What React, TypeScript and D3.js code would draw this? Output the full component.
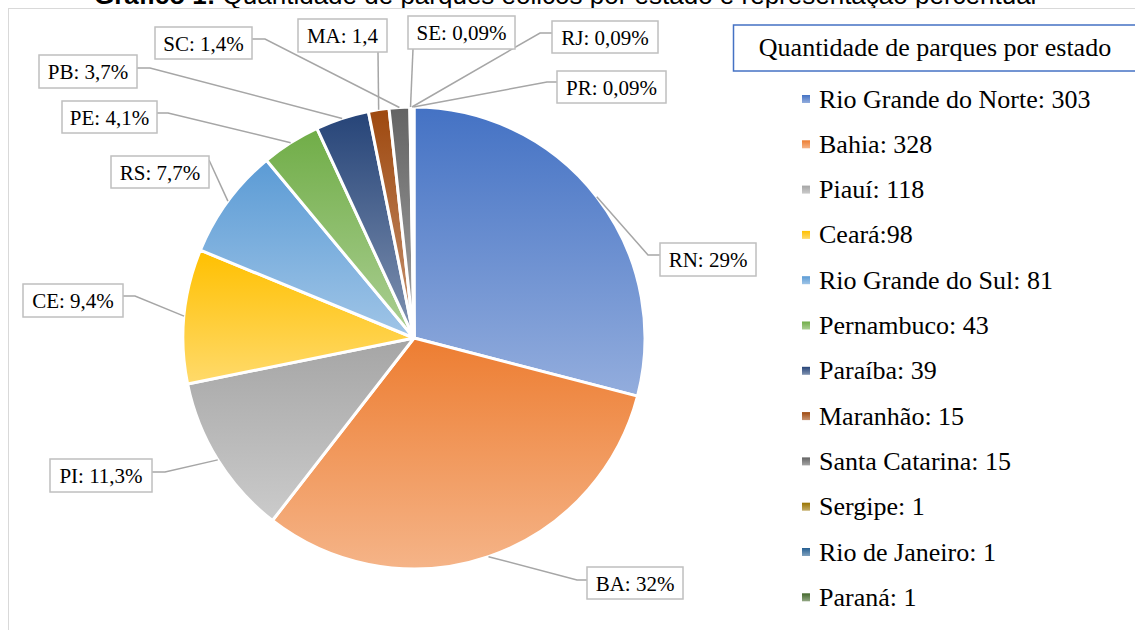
import * as d3 from "d3";

const W = 1135;
const H = 630;

// data
const states = [
  "Rio Grande do Norte",
  "Bahia",
  "Piauí",
  "Ceará",
  "Rio Grande do Sul",
  "Pernambuco",
  "Paraíba",
  "Maranhão",
  "Santa Catarina",
  "Sergipe",
  "Rio de Janeiro",
  "Paraná",
];
const abbrevs = ["RN", "BA", "PI", "CE", "RS", "PE", "PB", "MA", "SC", "SE", "RJ", "PR"];
const counts = [303, 328, 118, 98, 81, 43, 39, 15, 15, 1, 1, 1];
const pctLabels = ["29%", "32%", "11,3%", "9,4%", "7,7%", "4,1%", "3,7%", "1,4", "1,4%", "0,09%", "0,09%", "0,09%"];

const title = "Gráfico 1:";
const subtitle = " Quantidade de parques eólicos por estado e representação percentual";
const legendTitle = "Quantidade de parques por estado";

// office palette, base + tint for the gradient fill
const colors = ["#4472C4", "#ED7D31", "#A5A5A5", "#FFC000", "#5B9BD5", "#70AD47", "#264478", "#9E480E", "#636363", "#997300", "#255E91", "#43682B"];

// manual label placement (box x, y, w, h; elbow; attach point on box)
type LabelLayout = { box: [number, number, number, number]; elbow: [number, number] | null; attach: [number, number] };
const labelLayout: LabelLayout[] = [
  { box: [660, 243, 96, 33], elbow: [648, 255], attach: [660, 255] },
  { box: [587, 567, 96, 32], elbow: [577, 580], attach: [587, 580] },
  { box: [50, 459, 102, 33], elbow: [165, 472], attach: [152, 472] },
  { box: [23, 284, 100, 33], elbow: [135, 296], attach: [123, 296] },
  { box: [111, 156, 98, 32], elbow: null, attach: [209, 160] },
  { box: [62, 101, 95, 32], elbow: [168, 113], attach: [157, 113] },
  { box: [39, 55, 98, 33], elbow: [150, 68], attach: [137, 68] },
  { box: [298, 19, 89, 33], elbow: null, attach: [378, 52] },
  { box: [155, 27, 97, 32], elbow: [265, 39], attach: [252, 39] },
  { box: [408, 16, 107, 33], elbow: null, attach: [413, 49] },
  { box: [552, 21, 106, 32], elbow: [540, 33], attach: [552, 33] },
  { box: [557, 71, 109, 32], elbow: [547, 82], attach: [557, 82] },
];

const serif = "'Times New Roman', 'Liberation Serif', serif";
const sans = "Arial, 'Liberation Sans', sans-serif";

export default function App() {
  const cx = 414;
  const cy = 338;
  const R = 231;

  const pie = d3.pie<number>().sort(null).value((d) => d);
  const arcs = pie(counts);
  const arc = d3.arc<d3.PieArcDatum<number>>().innerRadius(0).outerRadius(R);
  const edge = d3.arc<d3.PieArcDatum<number>>().innerRadius(R).outerRadius(R);

  const tint = (c: string) => d3.interpolateRgb(c, "#ffffff")(0.42);

  const legendY = d3
    .scalePoint<string>()
    .domain(states)
    .range([99, 99 + 11 * 45.3]);

  const leader = d3.line();

  return (
    <svg width={W} height={H} style={{ position: "absolute", left: 0, top: 0 }}>
      <defs>
        {colors.map((c, i) => (
          <linearGradient key={i} id={`g${i}`} x1="0" y1="0" x2="0" y2="1">
            <stop offset="0" stopColor={c} />
            <stop offset="1" stopColor={tint(c)} />
          </linearGradient>
        ))}
      </defs>
      <rect width={W} height={H} fill="#fff" />

      {/* title, cut by the top edge */}
      <text x={94} y={4} fontFamily={sans} fontSize={26} fill="#000">
        <tspan fontWeight="bold">{title}</tspan>
        <tspan>{subtitle}</tspan>
      </text>

      {/* chart area frame */}
      <rect x={8.5} y={8.5} width={W + 20} height={H + 20} fill="none" stroke="#D9D9D9" strokeWidth={1} />

      {/* slices */}
      <g transform={`translate(${cx},${cy})`}>
        {arcs.map((a, i) => (
          <path key={i} d={arc(a) || ""} fill={`url(#g${i})`} stroke="#fff" strokeWidth={3} strokeLinejoin="round" />
        ))}
      </g>

      {/* leader lines */}
      {arcs.map((a, i) => {
        const [px, py] = edge.centroid(a);
        const L = labelLayout[i];
        const pts: [number, number][] = [[cx + px, cy + py]];
        if (L.elbow) pts.push(L.elbow);
        pts.push(L.attach);
        return <path key={i} d={leader(pts) || ""} fill="none" stroke="#A6A6A6" strokeWidth={1.5} />;
      })}

      {/* data labels */}
      {labelLayout.map((L, i) => {
        const [bx, by, bw, bh] = L.box;
        return (
          <g key={i}>
            <rect x={bx} y={by} width={bw} height={bh} fill="#fff" stroke="#BFBFBF" strokeWidth={1.5} />
            <text x={bx + bw / 2} y={by + bh / 2 + 7.5} textAnchor="middle" fontFamily={serif} fontSize={21} fill="#000">
              {`${abbrevs[i]}: ${pctLabels[i]}`}
            </text>
          </g>
        );
      })}

      {/* legend */}
      <rect x={733.5} y={25} width={450} height={46} fill="#fff" stroke="#4472C4" strokeWidth={1.5} />
      <text x={935} y={56} textAnchor="middle" fontFamily={serif} fontSize={26} fill="#000">
        {legendTitle}
      </text>
      {states.map((s, i) => {
        const y = legendY(s) || 0;
        // the source writes "Ceará:98" without a space
        const sep = i === 3 ? ":" : ": ";
        return (
          <g key={s}>
            <rect x={802} y={y - 4} width={8} height={8} fill={`url(#g${i})`} />
            <text x={819} y={y + 8.5} fontFamily={serif} fontSize={26} fill="#000">
              {`${s}${sep}${counts[i]}`}
            </text>
          </g>
        );
      })}
    </svg>
  );
}
